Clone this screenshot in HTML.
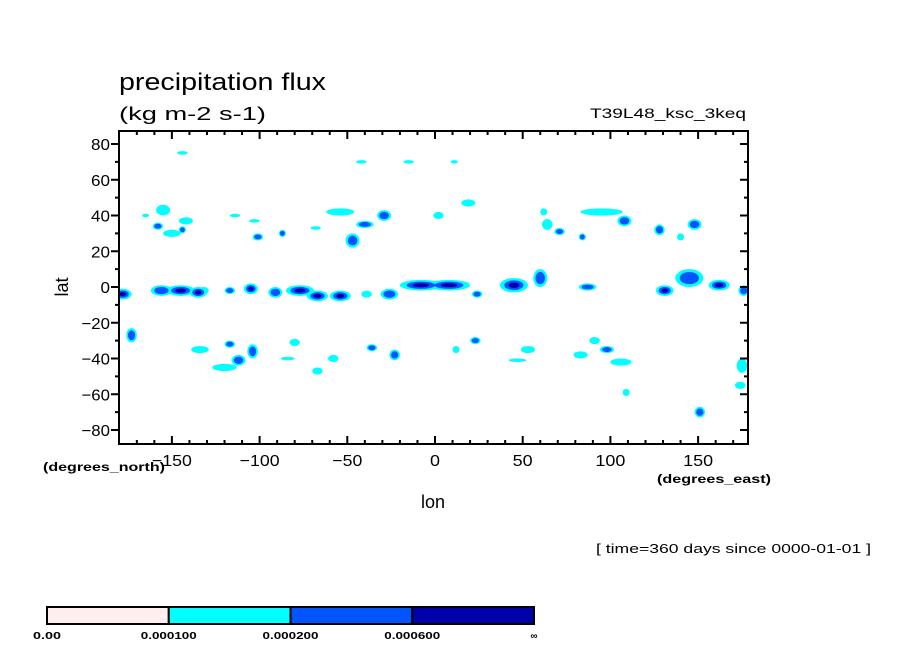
<!DOCTYPE html>
<html><head><meta charset="utf-8">
<style>
html,body{margin:0;padding:0;background:#fff;}
svg{display:block;font-family:"Liberation Sans",sans-serif;}
</style></head>
<body>
<svg id="chart" width="904" height="654" viewBox="0 0 904 654" xmlns="http://www.w3.org/2000/svg">
<text x="119" y="90" font-size="24" textLength="207" lengthAdjust="spacingAndGlyphs">precipitation flux</text>
<text x="119" y="120" font-size="18" textLength="147" lengthAdjust="spacingAndGlyphs">(kg m-2 s-1)</text>
<text x="590" y="118" font-size="14" textLength="156" lengthAdjust="spacingAndGlyphs">T39L48_ksc_3keq</text>
<g id="plot"></g>
<g id="axes"></g>
<text transform="translate(68,287) rotate(-90)" font-size="18" text-anchor="middle">lat</text>
<text x="433" y="508" font-size="18" text-anchor="middle">lon</text>
<text x="43" y="471" font-size="12" font-weight="bold" textLength="122" lengthAdjust="spacingAndGlyphs">(degrees_north)</text>
<text x="657" y="483" font-size="12" font-weight="bold" textLength="114" lengthAdjust="spacingAndGlyphs">(degrees_east)</text>
<text x="596" y="553" font-size="13" textLength="275" lengthAdjust="spacingAndGlyphs">[ time=360 days since 0000-01-01 ]</text>
<g id="cbar"></g>
</svg>
<script>
// blob data: centre lon, centre lat, half-width (deg), half-height (deg), level (1..3)
const blobLon = [-178,-156,-145,-135,-132,-117,-105,-91,-77,-67,-54,-39,-26,-8,8,24,45,60,87,131,145,162,176,
 -144,-42,-15,11,-155,-142,-150,-144,-158,-165,-114,-103,-101,-87,-68,-54,-40,-29,-47,2,19,62,64,71,84,95,108,128,140,148,
 -173,-134,-117,-120,-112,-104,-80,-84,-67,-58,-36,-23,12,23,53,47,83,91,98,106,109,151,175,174];
const blobLat = [-4,-2,-2,-3,-2,-2,-1,-3,-2,-5,-5,-4,-4,1,1,-4,1,5,0,-2,5,1,-2,
 75,70,70,70,43,37,30,32,34,40,40,37,28,30,33,42,35,40,26,40,47,42,35,31,28,42,37,32,28,35,
 -27,-35,-32,-45,-41,-36,-31,-40,-47,-40,-34,-38,-35,-30,-35,-41,-38,-30,-35,-42,-59,-70,-44,-55];
const blobW = [5,6,8,5,3,3,4,4,8,6,6,3,5,12,12,3,8,4,5,5,8,6,3,
 3,3,3,2,4,4,5,2,3,2,3,3,3,2,3,8,5,4,4,3,4,2,3,3,2,12,4,3,2,4,
 3,5,3,7,4,3,3,4,3,3,3,3,2,3,4,5,4,3,4,6,2,3,3,3];
const blobH = [3,3,3,3,2,2,3,3,3,3,3,2,3,3,3,2,4,5,2,3,5,3,3,
 1,1,1,1,3,2,2,2,2,1,1,1,2,2,1,2,2,3,4,2,2,2,3,2,2,2,3,3,2,3,
 4,2,2,2,3,4,2,1,2,2,2,3,2,2,2,1,2,2,2,2,2,3,4,2];
const blobLevel = [3,2,3,3,1,2,3,2,3,3,3,1,2,3,3,2,3,2,2,3,2,3,2,
 1,1,1,1,1,1,1,2,2,1,1,1,2,2,1,1,2,2,2,1,1,1,1,2,2,1,2,2,1,2,
 2,1,2,1,2,2,1,1,1,1,2,2,1,2,1,1,1,1,2,1,1,2,1,1];
// axes ticks
const latTicks = [80,60,40,20,0,-20,-40,-60,-80];
const lonTicks = [-150,-100,-50,0,50,100,150];
// colorbar
const cbarLabels = ["0.00","0.000100","0.000200","0.000600","∞"];
const cbarColors = ["#ffeeee","#00ffff","#0055ff","#0000aa"];

const NS="http://www.w3.org/2000/svg";
const X0=119,X1=748,Y0=131,Y1=444;
function xScale(lon){return 435+lon*1.754;}
function yScale(lat){return 287-lat*1.7875;}
function mk(tag,attrs,parent){const e=document.createElementNS(NS,tag);for(const k in attrs)e.setAttribute(k,attrs[k]);parent.appendChild(e);return e;}
const plot=document.getElementById('plot');
const clip=mk('clipPath',{id:'pc'},plot);
mk('rect',{x:X0,y:Y0,width:X1-X0,height:Y1-Y0},clip);
const g=mk('g',{'clip-path':'url(#pc)'},plot);
const levelCols=["#00ffff","#0055ff","#0000aa"];
const scales=[1,0.68,0.38];
for(let lv=0;lv<3;lv++){
 for(let i=0;i<blobLon.length;i++){
  if(blobLevel[i]<=lv)continue;
  const rx=blobW[i]*1.754*scales[lv], ry=blobH[i]*1.7875*scales[lv];
  const e=mk('ellipse',{cx:xScale(blobLon[i]),cy:yScale(blobLat[i]),rx:Math.max(rx,1.2),ry:Math.max(ry,1.2),fill:levelCols[lv]},g);
  
  
 }
}
const ax=document.getElementById('axes');
const fr=mk('rect',{x:X0,y:Y0,width:X1-X0,height:Y1-Y0,fill:'none',stroke:'#000','stroke-width':2},ax);


for(let lat=-80;lat<=80;lat+=10){
 const y=yScale(lat), major=lat%20===0, L=major?8:4;
 mk('line',{x1:X0-L,x2:X0,y1:y,y2:y,stroke:'#000','stroke-width':2},ax);
 mk('line',{x1:X1-L,x2:X1,y1:y,y2:y,stroke:'#000','stroke-width':2},ax);
}
for(const t of latTicks){
 const s=String(t);
 const tx=mk('text',{x:X0-9,y:yScale(t)+6,'font-size':16,'text-anchor':'end',textLength:s.length*9.5,lengthAdjust:'spacingAndGlyphs'},ax);
 tx.textContent=(t<0?'\u2212'+(-t):s);
 
 
}
for(let lon=-170;lon<=170;lon+=10){
 const x=xScale(lon), major=lon%50===0, L=major?8:4;
 mk('line',{x1:x,x2:x,y1:Y0,y2:Y0+L,stroke:'#000','stroke-width':2},ax);
 mk('line',{x1:x,x2:x,y1:Y1-L,y2:Y1,stroke:'#000','stroke-width':2},ax);
}
for(const t of lonTicks){
 const s=String(t);
 const tx=mk('text',{x:xScale(t),y:466,'font-size':16,'text-anchor':'middle',textLength:s.length*10,lengthAdjust:'spacingAndGlyphs'},ax);
 tx.textContent=(t<0?'\u2212'+(-t):s);
 
 
}
const cb=document.getElementById('cbar');
const CX0=47,CX1=534,CY0=607,CY1=624,bw=(CX1-CX0)/cbarColors.length;
cbarColors.forEach((c,i)=>{
 const r=mk('rect',{x:CX0+i*bw,y:CY0,width:bw,height:CY1-CY0,fill:c,stroke:'#000','stroke-width':2},cb);
 
 
});
cbarLabels.forEach((s,i)=>{
 const attrs={x:CX0+i*bw,y:639,'font-size':10,'font-weight':'bold','text-anchor':'middle'};
 if(s.length>1){attrs.textLength=s.length*7;attrs.lengthAdjust='spacingAndGlyphs';}
 const t=mk('text',attrs,cb);
 t.textContent=s;
 
 
});
</script>
</body></html>
